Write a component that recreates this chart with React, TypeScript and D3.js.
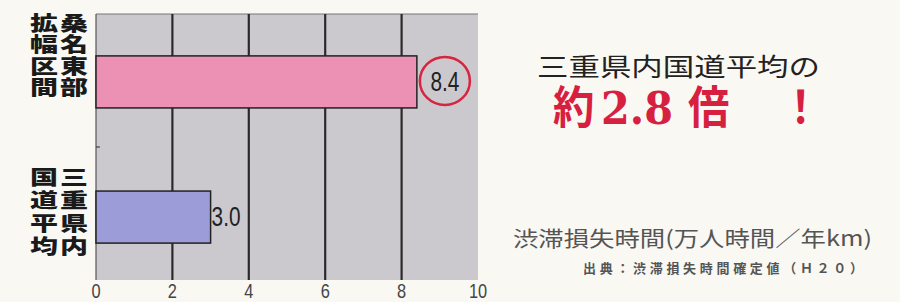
import React, { useEffect, useRef } from 'react';
import * as d3 from 'd3';

// 渋滞損失時間（万人時間／年km）
const categories = ['桑名東部拡幅区間', '三重県内国道平均'];
const labelColumns = [
  ['拡幅区間', '桑名東部'],
  ['国道平均', '三重県内'],
];
const values = [8.4, 3.0];
const valueLabels = ['8.4', '3.0'];
const barColors = ['#ec90b4', '#9c9cd8'];
const xTicks = [0, 2, 4, 6, 8, 10];

const headline = '三重県内国道平均の';
const unitLabel = '渋滞損失時間(万人時間／年km)';
const sourceLabel = '出典：渋滞損失時間確定値（Ｈ２０）';

const narrow = "font-family: 'Liberation Sans', 'DejaVu Sans', sans-serif;";
const jp = "font-family: 'Noto Sans CJK JP', sans-serif;";

export default () => {
  const svgRef = useRef<SVGSVGElement>(null);

  const width = 900;
  const height = 302;
  const plotLeft = 96;
  const plotRight = 478;
  const plotTop = 14;
  const plotBottom = 280;

  useEffect(() => {
    if (!svgRef.current) {
      return;
    }
    const svg = d3.select(svgRef.current);
    svg.selectAll('*').remove();

    svg.append('rect')
      .attr('width', width)
      .attr('height', height)
      .attr('fill', '#f9f8f3');

    const x = d3.scaleLinear().domain([0, 10]).range([plotLeft, plotRight]);
    const y = d3.scaleBand<string>()
      .domain(categories)
      .range([plotTop, plotBottom + 5])
      .paddingInner(0.615)
      .paddingOuter(0.31);

    // 背景
    svg.append('rect')
      .attr('x', plotLeft)
      .attr('y', plotTop)
      .attr('width', plotRight - plotLeft)
      .attr('height', plotBottom - plotTop)
      .attr('fill', '#ccc9ce');

    svg.append('line')
      .attr('x1', plotLeft).attr('x2', plotRight)
      .attr('y1', plotTop).attr('y2', plotTop)
      .attr('stroke', '#777').attr('stroke-width', 1);

    // グリッド
    svg.append('g')
      .selectAll('line')
      .data(xTicks.filter(t => t > 0 && t < 10))
      .enter()
      .append('line')
      .attr('x1', d => x(d))
      .attr('x2', d => x(d))
      .attr('y1', plotTop)
      .attr('y2', plotBottom)
      .attr('stroke', '#2a2a2a')
      .attr('stroke-width', 2.2);

    svg.append('line')
      .attr('x1', plotLeft).attr('x2', plotLeft)
      .attr('y1', plotTop).attr('y2', plotBottom)
      .attr('stroke', '#555').attr('stroke-width', 1.2);

    svg.append('line')
      .attr('x1', plotLeft).attr('x2', plotLeft + 4)
      .attr('y1', (plotTop + plotBottom) / 2).attr('y2', (plotTop + plotBottom) / 2)
      .attr('stroke', '#444').attr('stroke-width', 1.2);

    // 目盛ラベル
    svg.append('g')
      .selectAll('text')
      .data(xTicks)
      .enter()
      .append('text')
      .text(d => String(d))
      .attr('transform', d => `translate(${x(d)}, 298) scale(0.82, 1)`)
      .attr('text-anchor', 'middle')
      .attr('style', `fill: #444; font-size: 20px; ${narrow}`);

    // 棒
    svg.append('g')
      .selectAll('rect')
      .data(values)
      .enter()
      .append('rect')
      .attr('x', x(0))
      .attr('y', (d, i) => y(categories[i]) as number)
      .attr('width', d => x(d) - x(0))
      .attr('height', y.bandwidth())
      .attr('fill', (d, i) => barColors[i])
      .attr('stroke', '#222')
      .attr('stroke-width', 1.5);

    // 値ラベル
    values.forEach((v, i) => {
      const cy = (y(categories[i]) as number) + y.bandwidth() / 2;
      const tx = i === 0 ? x(v) + 28 : x(v) + 1;
      if (i === 0) {
        svg.append('ellipse')
          .attr('cx', tx)
          .attr('cy', cy - 1)
          .attr('rx', 25)
          .attr('ry', 24)
          .attr('fill', 'none')
          .attr('stroke', '#d8243e')
          .attr('stroke-width', 2.5);
      }
      svg.append('text')
        .text(valueLabels[i])
        .attr('transform', `translate(${tx}, ${cy + 9}) scale(0.8, 1.05)`)
        .attr('text-anchor', i === 0 ? 'middle' : 'start')
        .attr('style', `fill: #222; font-size: 26px; ${narrow}`);
    });

    // カテゴリ (縦書き)
    labelColumns.forEach((cols, i) => {
      const top = i === 0 ? 13 : 167;
      const step = i === 0 ? 21.5 : 23;
      cols.forEach((col, c) => {
        svg.append('text')
          .text(col)
          .attr('transform', `translate(${44 + c * 30}, ${top}) scale(1.4, 1)`)
          .attr('style', `fill: #1a1a1a; font-size: 20px; font-weight: 900; writing-mode: vertical-rl; letter-spacing: ${step - 20}px; ${jp}`);
      });
    });

    // 右側テキスト
    svg.append('text')
      .text(headline)
      .attr('x', 537)
      .attr('y', 76)
      .attr('textLength', 283)
      .attr('lengthAdjust', 'spacingAndGlyphs')
      .attr('style', `fill: #222; font-size: 25px; ${jp}`);

    const bigParts: [string, number, string][] = [
      ['約', 553, jp],
      ['2.8', 601, "font-family: 'DejaVu Serif', serif;"],
      ['倍', 688, jp],
      ['！', 780, jp],
    ];
    bigParts.forEach(([t, px, ff]) => {
      svg.append('text')
        .text(t)
        .attr('transform', `translate(${px}, 124) scale(0.92, 1)`)
        .attr('style', `fill: #d72040; font-size: 45px; font-weight: bold; ${ff}`);
    });

    svg.append('text')
      .text(unitLabel)
      .attr('x', 513)
      .attr('y', 246)
      .attr('textLength', 359)
      .attr('lengthAdjust', 'spacingAndGlyphs')
      .attr('style', `fill: #555; font-size: 21px; ${jp}`);

    svg.append('text')
      .text(sourceLabel)
      .attr('x', 583)
      .attr('y', 273)
      .attr('textLength', 280)
      .attr('style', `fill: #555; font-size: 13px; font-weight: bold; ${jp}`);
  }, []);

  return (
    <div style={{ position: 'absolute', left: 0, top: 0, width, height }}>
      <svg ref={svgRef} width={width} height={height} style={{ display: 'block' }} />
    </div>
  );
};
